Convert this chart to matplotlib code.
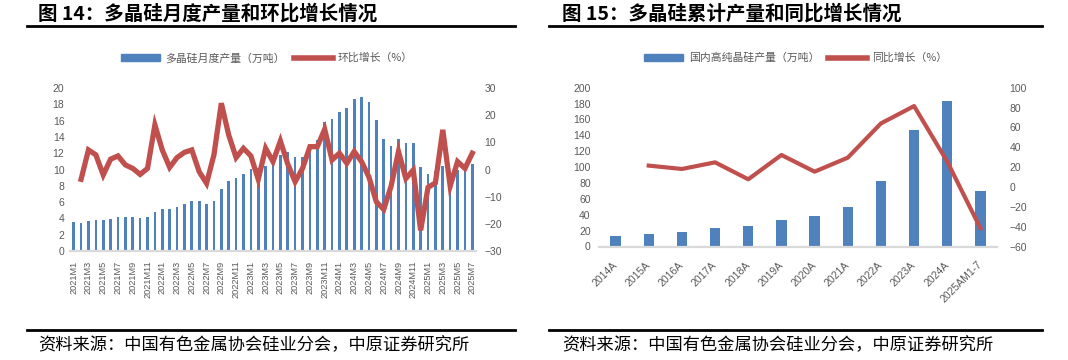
import numpy as np
import matplotlib
matplotlib.use("Agg")
import matplotlib.pyplot as plt
from matplotlib.lines import Line2D
from matplotlib.patches import Patch

CJK = ['Noto Sans CJK SC', 'DejaVu Sans']
NUM = ['Liberation Sans', 'DejaVu Sans']
BLUE = '#4F81BD'
RED = '#C0504D'
GREY = '#595959'

# ---- left chart data: monthly output (10k t) and MoM growth (%)
months = [f"{y}M{m}" for y in range(2021, 2026) for m in range(1, 13)][:55]
monthly_output = [3.53, 3.40, 3.65, 3.78, 3.78, 3.90, 4.19, 4.19, 4.19, 4.02,
                  4.19, 4.76, 5.17, 5.17, 5.42, 5.79, 6.16, 6.16, 5.79, 6.16,
                  7.64, 8.62, 9.00, 9.50, 10.10, 10.20, 10.40, 10.80, 11.80, 12.20,
                  11.50, 11.50, 12.80, 13.60, 15.80, 16.20, 17.10, 17.50, 18.60, 18.90,
                  18.30, 16.10, 13.80, 12.90, 13.80, 13.30, 13.30, 10.30, 9.50, 9.80,
                  10.40, 9.80, 10.00, 10.10, 10.70]
mom_growth = [np.nan, -3.6, 7.2, 5.4, -2.0, 3.8, 5.0, 1.7, 0.4, -1.8,
              0.4, 16.4, 7.2, 0.8, 4.4, 6.3, 7.2, -0.8, -5.1, 5.4,
              24.4, 12.7, 4.4, 7.8, 5.0, -3.6, 7.8, 2.9, 10.5, 2.0,
              -4.5, 0.4, 8.4, 8.4, 14.8, 3.5, 6.0, 2.3, 6.6, 2.9,
              -2.8, -11.9, -14.7, -6.1, 6.6, -3.3, -0.2, -22.4, -6.6, -4.9,
              14.6, -6.1, 2.9, 0.4, 6.0]

# ---- right chart data: cumulative output (10k t) and YoY growth (%)
years = ['2014A', '2015A', '2016A', '2017A', '2018A', '2019A', '2020A',
         '2021A', '2022A', '2023A', '2024A', '2025AM1-7']
annual_output = [13.4, 15.9, 18.4, 23.5, 26.0, 33.5, 38.6, 49.9, 82.6, 146.8, 183.2, 70.0]
yoy_growth = [np.nan, 21.5, 18.1, 24.8, 7.7, 32.2, 15.4, 29.5, 64.0, 81.5, 25.5, -41.6]

W, H = 1068, 360
fig = plt.figure(figsize=(W / 100, H / 100), dpi=100)


def fx(px):
    return px / W


def fy(py):
    return 1 - py / H


def style_axes(ax, ax2):
    for a in (ax, ax2):
        for s in a.spines.values():
            s.set_visible(False)
        a.tick_params(length=0, colors=GREY)
    ax.spines['bottom'].set_visible(True)
    ax.spines['bottom'].set_color('#D9D9D9')
    ax.spines['bottom'].set_linewidth(1.6)
    ax.set_zorder(1)
    ax2.set_zorder(2)


def tick_font(ax, size):
    for lab in ax.get_xticklabels() + ax.get_yticklabels():
        lab.set_fontfamily(NUM)
        lab.set_fontsize(size)
        lab.set_color(GREY)


# ================= left panel =================
axL = fig.add_axes([fx(70), fy(251), fx(476 - 70), fy(88) - fy(251)])
x = np.arange(len(months))
axL.bar(x, monthly_output, width=0.36, color=BLUE, zorder=2)
axL.set_xlim(-0.5, len(months) - 0.5)
axL.set_ylim(0, 20)
axL.set_yticks(range(0, 21, 2))
axL.set_xticks(x[::2])
axL.set_xticklabels(months[::2], rotation=90)
axL2 = axL.twinx()
axL2.plot(x, mom_growth, color=RED, lw=3.8, solid_joinstyle='miter')
axL2.set_ylim(-30, 30)
axL2.set_yticks(range(-30, 31, 10))
style_axes(axL, axL2)
axL.tick_params(axis='x', pad=7)
axL.tick_params(axis='y', pad=4)
axL2.tick_params(axis='y', pad=6)
tick_font(axL, 7.5)
tick_font(axL2, 7.5)
for lab in axL.get_xticklabels():
    lab.set_fontsize(6.6)

hL = [Patch(color=BLUE), Line2D([], [], color=RED, lw=4)]
legL = fig.legend(hL, ['多晶硅月度产量（万吨）', '环比增长（%）'], loc='center',
                  bbox_to_anchor=(fx(267), fy(58)), ncol=2, frameon=False,
                  handlelength=3.6, handleheight=0.55, handletextpad=0.5,
                  columnspacing=0.8, prop={'family': CJK, 'size': 7.8})
for t in legL.get_texts():
    t.set_color(GREY)

fig.text(fx(38), fy(14), '图 14：多晶硅月度产量和环比增长情况', family=CJK,
         weight='bold', fontsize=14, va='center', ha='left')
fig.add_artist(Line2D([fx(27), fx(515)], [fy(25.5), fy(25.5)],
                      transform=fig.transFigure, color='black', lw=2))
fig.add_artist(Line2D([fx(27), fx(515)], [fy(330), fy(330)],
                      transform=fig.transFigure, color='black', lw=2))
fig.text(fx(38), fy(345), '资料来源：中国有色金属协会硅业分会，中原证券研究所',
         family=CJK, fontsize=12.4, va='center', ha='left')

# ================= right panel =================
axR = fig.add_axes([fx(599), fy(246.5), fx(997 - 599), fy(87.7) - fy(246.5)])
xr = np.arange(len(years))
axR.bar(xr, annual_output, width=0.31, color=BLUE, zorder=2)
axR.set_xlim(-0.5, len(years) - 0.5)
axR.set_ylim(0, 200)
axR.set_yticks(range(0, 201, 20))
axR.set_xticks(xr)
axR.set_xticklabels(years, rotation=45, ha='right', va='center', rotation_mode='anchor')
axR2 = axR.twinx()
axR2.plot(xr, yoy_growth, color=RED, lw=3.0)
axR2.set_ylim(-60, 100)
axR2.set_yticks(range(-60, 101, 20))
style_axes(axR, axR2)
axR.tick_params(axis='x', pad=12)
axR.tick_params(axis='y', pad=6)
axR2.tick_params(axis='y', pad=9)
tick_font(axR, 7.5)
tick_font(axR2, 7.5)

hR = [Patch(color=BLUE), Line2D([], [], color=RED, lw=4)]
legR = fig.legend(hR, ['国内高纯晶硅产量（万吨）', '同比增长（%）'], loc='center',
                  bbox_to_anchor=(fx(796), fy(58)), ncol=2, frameon=False,
                  handlelength=3.6, handleheight=0.55, handletextpad=0.5,
                  columnspacing=0.8, prop={'family': CJK, 'size': 7.8})
for t in legR.get_texts():
    t.set_color(GREY)

fig.text(fx(562), fy(14), '图 15：多晶硅累计产量和同比增长情况', family=CJK,
         weight='bold', fontsize=14, va='center', ha='left')
fig.add_artist(Line2D([fx(549), fx(1042)], [fy(25.5), fy(25.5)],
                      transform=fig.transFigure, color='black', lw=2))
fig.add_artist(Line2D([fx(549), fx(1042)], [fy(330), fy(330)],
                      transform=fig.transFigure, color='black', lw=2))
fig.text(fx(562), fy(345), '资料来源：中国有色金属协会硅业分会，中原证券研究所',
         family=CJK, fontsize=12.4, va='center', ha='left')

fig.savefig('out.png', dpi=100)
